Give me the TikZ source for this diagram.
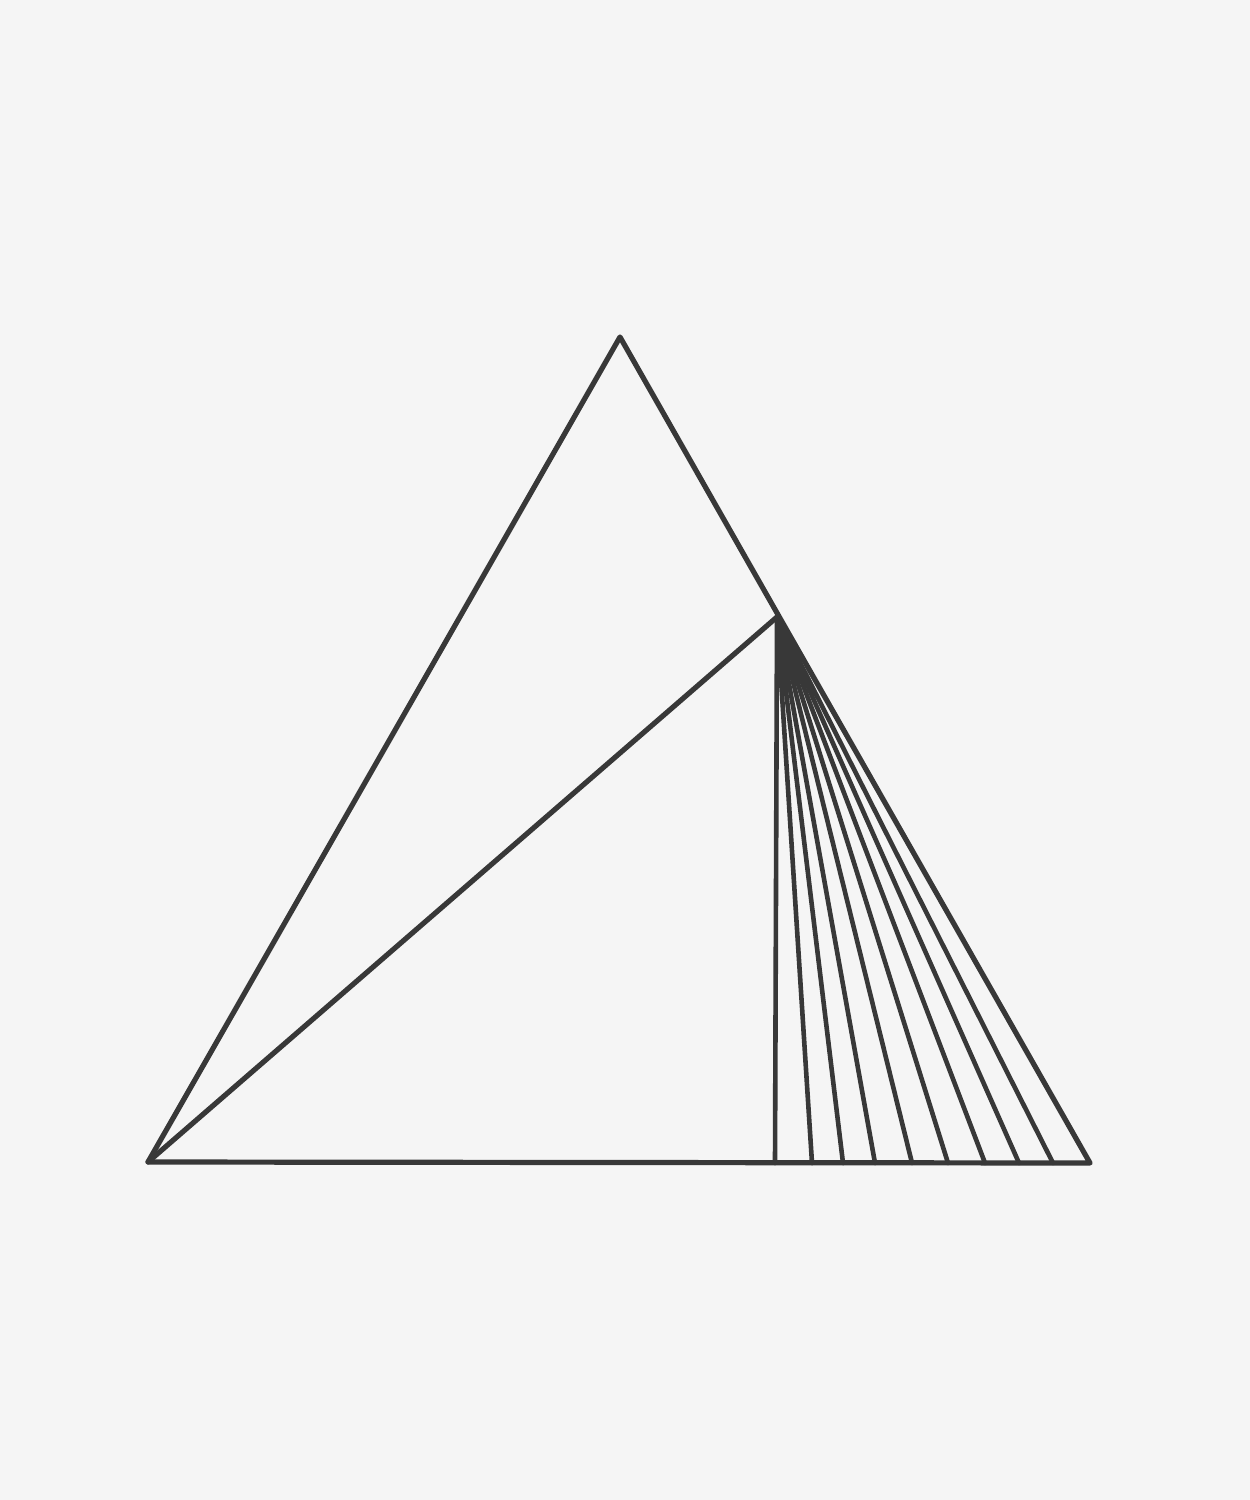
\documentclass[tikz,border=0pt]{standalone}
\begin{document}
\begin{tikzpicture}[x=1pt,y=-1pt,
  ink/.style={draw=black!78,line width=5.2pt,line join=round,line cap=round}]
\fill[black!4] (0,0) rectangle (1250,1500);
\useasboundingbox (0,0) rectangle (1250,1500);
\coordinate (A) at (620,337);
\coordinate (L) at (148,1162);
\coordinate (R) at (1090,1163);
\coordinate (P) at (777,617);
\draw[ink] (L) -- (A) -- (R) -- cycle;
\draw[ink] (L) -- (P);
\foreach \x [count=\i] in {775,812,843,875,912,948,985,1019,1053} {
  \coordinate (b\i) at (\x,1163);
  \draw[ink,line width=4.6pt] (P) -- (b\i);
}
\end{tikzpicture}
\end{document}
